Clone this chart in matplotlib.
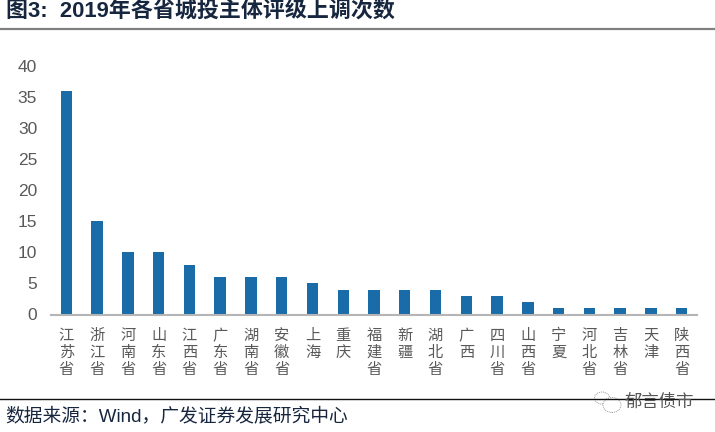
import matplotlib
matplotlib.use("Agg")
import matplotlib.pyplot as plt
from matplotlib.lines import Line2D
from matplotlib.patches import Ellipse

plt.rcParams['font.family'] = ['Liberation Sans', 'Noto Sans CJK SC', 'DejaVu Sans']

provinces = ["江苏省", "浙江省", "河南省", "山东省", "江西省", "广东省", "湖南省", "安徽省", "上海", "重庆",
             "福建省", "新疆", "湖北省", "广西", "四川省", "山西省", "宁夏", "河北省", "吉林省", "天津", "陕西省"]
counts = [36, 15, 10, 10, 8, 6, 6, 6, 5, 4, 4, 4, 4, 3, 3, 2, 1, 1, 1, 1, 1]
yticks = [0, 5, 10, 15, 20, 25, 30, 35, 40]
title = "图3:  2019年各省城投主体评级上调次数"
source = "数据来源：Wind，广发证券发展研究中心"
watermark = "郁言债市"

W, H = 715, 432
fig = plt.figure(figsize=(W / 100, H / 100), dpi=100, facecolor="white")
ax = fig.add_axes([51 / W, 1 - 314.5 / H, 646 / W, 248.5 / H])

x = list(range(len(counts)))
ax.bar(x, counts, width=0.37, color="#1A6CA8")
ax.set_xlim(-0.5, len(counts) - 0.5)
ax.set_ylim(0, 40)
ax.set_yticks(yticks)
ax.tick_params(axis="y", length=0, labelsize=12.5, labelcolor="#595959", pad=10)
ax.set_xticks(x)
ax.set_xticklabels(["\n".join(p) for p in provinces], fontsize=11, color="#595959",
                   linespacing=1.0, family=['Noto Sans CJK SC'])
ax.tick_params(axis="x", length=0, pad=9)
for s in ["top", "right", "left"]:
    ax.spines[s].set_visible(False)
ax.spines["bottom"].set_color("#B5B5B5")
ax.spines["bottom"].set_linewidth(1.5)

fig.text(6 / W, 1 - 12 / H, title, fontsize=15.8, fontweight="bold", color="#17263F", va="center", ha="left")
fig.add_artist(Line2D([0, 1], [1 - 29 / H] * 2, color="#808080", lw=1.6))
fig.add_artist(Line2D([0, 1], [1 - 399 / H] * 2, color="#111111", lw=1.0))
fig.text(5 / W, 1 - 416 / H, source, fontsize=13.5, color="#17263F", va="center", ha="left")

fig.text(625 / W, 1 - 402 / H, watermark, fontsize=12.5, color="#555555", va="center", ha="left")
for cx, cy, a, b in [(602, 398, 15, 12), (612, 405, 18, 15)]:
    fig.add_artist(Ellipse((cx / W, 1 - cy / H), a / W, b / H, transform=fig.transFigure,
                           facecolor="white", edgecolor="#999999", lw=0.7, ls=(0, (1, 1))))

fig.savefig("out.png", dpi=100)
